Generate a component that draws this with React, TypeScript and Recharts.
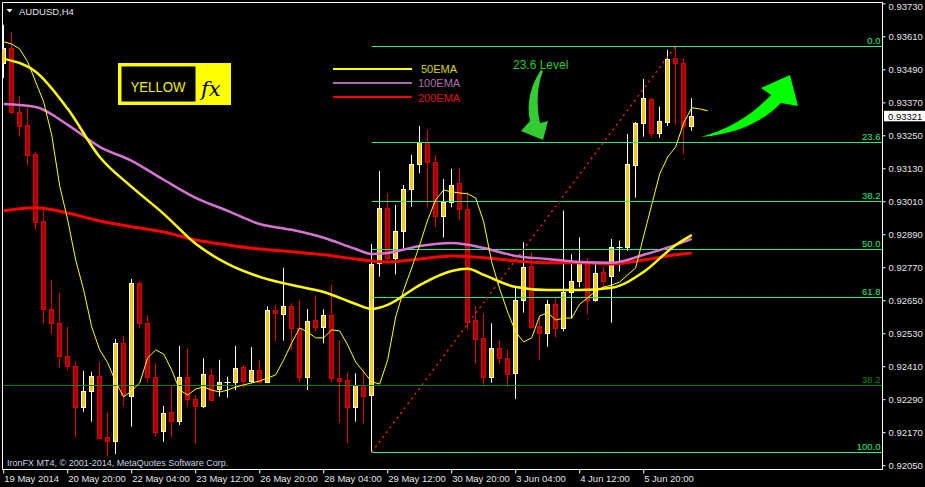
import React from "react";
import {
  ComposedChart,
  Bar,
  Line,
  XAxis,
  YAxis,
  ReferenceLine,
  ReferenceArea,
} from "recharts";

// AUDUSD H4 candles
const opens = [
  0.93514, 0.93571, 0.93336, 0.93289, 0.93184, 0.9294, 0.92619, 0.92569, 0.92449, 0.92413,
  0.92262, 0.92321, 0.92376, 0.92153, 0.92141, 0.92495, 0.92305, 0.92714, 0.92568, 0.92372,
  0.92177, 0.92244, 0.92214, 0.92372, 0.92293, 0.92268, 0.9238, 0.92328, 0.92354, 0.92353,
  0.92409, 0.92359, 0.92398, 0.92353, 0.92617, 0.92601, 0.92631, 0.9255, 0.92374, 0.9258,
  0.92556, 0.92598, 0.9237, 0.92362, 0.92262, 0.92344, 0.92307, 0.92786, 0.92987, 0.92807,
  0.92904, 0.93056, 0.93147, 0.93229, 0.93154, 0.9296, 0.93008, 0.93079, 0.92984, 0.9258,
  0.92513, 0.92372, 0.92477, 0.92441, 0.92386, 0.92653, 0.92777, 0.92558, 0.92534, 0.92637,
  0.9255, 0.92681, 0.92723, 0.92792, 0.92653, 0.92756, 0.9274, 0.92847, 0.92845, 0.93142,
  0.93298, 0.93384, 0.93259, 0.93302, 0.93532, 0.93514, 0.93287,
];
const highs = [
  0.93654, 0.93629, 0.93395, 0.93353, 0.93193, 0.92995, 0.92726, 0.92677, 0.92556, 0.92428,
  0.92395, 0.92392, 0.92428, 0.92243, 0.92511, 0.92522, 0.92729, 0.92722, 0.92598, 0.92423,
  0.92267, 0.9234, 0.92486, 0.92475, 0.92307, 0.92441, 0.92402, 0.92435, 0.92374, 0.92486,
  0.92416, 0.92481, 0.92435, 0.92629, 0.92635, 0.9277, 0.92641, 0.9265, 0.9262, 0.92671,
  0.92619, 0.92705, 0.92504, 0.92386, 0.92386, 0.92401, 0.92857, 0.93122, 0.93041, 0.92999,
  0.93071, 0.93181, 0.93286, 0.93272, 0.93181, 0.93093, 0.9313, 0.93133, 0.93047, 0.92631,
  0.92604, 0.92568, 0.92505, 0.92471, 0.92699, 0.92863, 0.92826, 0.92588, 0.92653, 0.92663,
  0.92978, 0.92819, 0.9288, 0.92805, 0.92792, 0.92774, 0.92875, 0.92869, 0.93257, 0.933,
  0.93457, 0.93389, 0.93356, 0.93563, 0.93577, 0.93532, 0.93387,
];
const lows = [
  0.9346, 0.9333, 0.93247, 0.93142, 0.92908, 0.92568, 0.92528, 0.92407, 0.92398, 0.92153,
  0.92246, 0.9221, 0.92146, 0.92083, 0.92092, 0.92265, 0.92192, 0.9255, 0.92352, 0.92155,
  0.92137, 0.92153, 0.92198, 0.92265, 0.92131, 0.92259, 0.92285, 0.92301, 0.92297, 0.92325,
  0.92332, 0.9235, 0.9235, 0.9235, 0.92501, 0.92505, 0.92471, 0.92353, 0.92325, 0.9254,
  0.92495, 0.92352, 0.92206, 0.92134, 0.9221, 0.92204, 0.92099, 0.92738, 0.92798, 0.92746,
  0.92841, 0.92992, 0.93114, 0.9299, 0.9292, 0.9288, 0.9299, 0.92945, 0.92544, 0.92423,
  0.92337, 0.92352, 0.92419, 0.92335, 0.92292, 0.92607, 0.92554, 0.92435, 0.92483, 0.92516,
  0.92538, 0.92586, 0.92699, 0.92601, 0.92647, 0.92699, 0.9257, 0.92756, 0.92832, 0.93025,
  0.93247, 0.93243, 0.93243, 0.93286, 0.9329, 0.93183, 0.93268,
];
const closes = [
  0.93569, 0.93336, 0.93287, 0.93182, 0.92936, 0.92619, 0.92568, 0.92448, 0.92412, 0.92262,
  0.92321, 0.92375, 0.9215, 0.92141, 0.92495, 0.92307, 0.92714, 0.92568, 0.92372, 0.92174,
  0.92241, 0.92214, 0.92374, 0.92292, 0.92267, 0.92382, 0.92288, 0.92353, 0.92354, 0.92404,
  0.92359, 0.92398, 0.92353, 0.92617, 0.92604, 0.92631, 0.9255, 0.92374, 0.92578, 0.92556,
  0.92598, 0.92368, 0.92359, 0.92262, 0.92344, 0.92305, 0.92783, 0.92987, 0.92807, 0.92904,
  0.93056, 0.93147, 0.93229, 0.93153, 0.9296, 0.93011, 0.93071, 0.92983, 0.92574, 0.9251,
  0.92372, 0.92477, 0.92441, 0.92382, 0.92653, 0.92774, 0.92556, 0.92534, 0.92637, 0.9255,
  0.92681, 0.92723, 0.92792, 0.92653, 0.92752, 0.92723, 0.92845, 0.92847, 0.93147, 0.93296,
  0.93387, 0.93259, 0.93304, 0.93529, 0.93514, 0.93287, 0.93321,
];

// thin yellow fast MA (shifted two bars forward)
const fastMa = [
  0.93592, 0.93584, 0.93566, 0.93519, 0.93446, 0.93373, 0.93253, 0.93068, 0.92944, 0.92798,
  0.92689, 0.92555, 0.92471, 0.92424, 0.92355, 0.923, 0.92322, 0.92351, 0.92442, 0.92471,
  0.92456, 0.92398, 0.92325, 0.92307, 0.92329, 0.92336, 0.92325, 0.92318, 0.92325, 0.92336,
  0.92344, 0.92351, 0.92358, 0.92369, 0.9238, 0.92435, 0.92496, 0.92551, 0.92536, 0.92515,
  0.92515, 0.92544, 0.9254, 0.92489, 0.92427, 0.92391, 0.92355, 0.92347, 0.92435, 0.92591,
  0.92689, 0.92769, 0.92853, 0.92944, 0.93017, 0.93053, 0.93046, 0.93042, 0.93039, 0.93024,
  0.92937, 0.92791, 0.92693, 0.92609, 0.92536, 0.925, 0.92515, 0.92595, 0.92606, 0.9258,
  0.92587, 0.92587, 0.92638, 0.9266, 0.92686, 0.927, 0.92707, 0.92718, 0.92744, 0.92769,
  0.92886, 0.92999, 0.93111, 0.93173, 0.9321, 0.93297, 0.93352, 0.93348, 0.93341,
];

// [bar index, value]
const ema50Pts: [number, number][] = [
  [0, 0.9353], [4, 0.93483], [8, 0.93348], [12, 0.93173], [16, 0.93064], [20, 0.92966],
  [24, 0.92857], [28, 0.92784], [32, 0.92737], [36, 0.92707], [40, 0.92682], [44, 0.92638],
  [46, 0.9262], [48, 0.92635], [52, 0.92707], [56, 0.92758], [58, 0.92766], [60, 0.92744],
  [64, 0.927], [68, 0.92689], [72, 0.92689], [76, 0.92697], [80, 0.92755], [84, 0.92853],
  [86, 0.92889],
];
const ema100Pts: [number, number][] = [
  [0, 0.93366], [4, 0.93355], [8, 0.9329], [12, 0.9321], [16, 0.93159], [20, 0.9309],
  [24, 0.93024], [28, 0.92977], [32, 0.92929], [36, 0.92908], [40, 0.92879], [44, 0.92838],
  [46, 0.9282], [48, 0.92824], [52, 0.92849], [56, 0.9286], [60, 0.92842], [64, 0.92813],
  [68, 0.92802], [72, 0.92791], [76, 0.92788], [80, 0.92817], [84, 0.92853], [86, 0.92875],
];
const ema200Pts: [number, number][] = [
  [0, 0.92977], [4, 0.92988], [8, 0.92969], [12, 0.9294], [16, 0.92919], [20, 0.929],
  [24, 0.92871], [28, 0.92853], [32, 0.92838], [36, 0.92828], [40, 0.92817], [44, 0.92802],
  [48, 0.92791], [52, 0.92802], [56, 0.92813], [60, 0.92806], [64, 0.92795], [68, 0.92788],
  [72, 0.92788], [76, 0.92784], [80, 0.92798], [84, 0.92817], [86, 0.92824],
];

const timeTicks = [0, 8, 16, 24, 32, 40, 48, 56, 64, 72, 80];
const timeLabels = [
  "19 May 2014", "20 May 20:00", "22 May 04:00", "23 May 12:00", "26 May 20:00",
  "28 May 04:00", "29 May 12:00", "30 May 20:00", "3 Jun 04:00", "4 Jun 12:00", "5 Jun 20:00",
];
const priceTicks = [
  0.9373, 0.9361, 0.9349, 0.9337, 0.9325, 0.9313, 0.9301, 0.9289, 0.9277, 0.9265, 0.9253,
  0.9241, 0.9229, 0.9217, 0.9205,
];

const fibLabels = ["0.0", "23.6", "38.2", "50.0", "61.8", "100.0"];
const fibPrices = [0.93577, 0.93228, 0.93012, 0.92838, 0.92664, 0.92099];
const fibStartBar = 46;
const oldFibLabel = "38.2";
const oldFibPrice = 0.92342;
const trendStart = { bar: 46, price: 0.92099 };
const trendEnd = { bar: 84, price: 0.93577 };
const lastPrice = 0.93321;

const X_DOMAIN: [number, number] = [-0.15, 109.85];
const Y_DOMAIN: [number, number] = [0.92036, 0.93735];

const FONT = "'Liberation Sans', Arial, sans-serif";
const FIB = "#1ff07f";
const OLD_FIB = "#0f800f";
const AXIS_TEXT = "#e4e4e4";

const m50 = new Map(ema50Pts);
const m100 = new Map(ema100Pts);
const m200 = new Map(ema200Pts);

const rows = fastMa.map((fast, i) => ({
  i,
  o: opens[i] ?? null,
  h: highs[i] ?? null,
  l: lows[i] ?? null,
  c: closes[i] ?? null,
  fast,
  e50: m50.get(i) ?? null,
  e100: m100.get(i) ?? null,
  e200: m200.get(i) ?? null,
}));

const Candle = (props: any) => {
  const { x, y, width, height, payload } = props;
  if (!payload || payload.h == null || !isFinite(y) || !isFinite(x)) return null;
  const { o, h, l, c } = payload;
  const span = h - l;
  const py = (v: number) => y + (span > 0 ? ((h - v) / span) * height : 0);
  const cx = Math.floor(x + (width || 0) / 2) + 0.5;
  const bull = c >= o;
  const wick = bull ? "#ffffff" : "#e00000";
  const top = Math.round(py(Math.max(o, c))) + 0.5;
  const bot = Math.round(py(Math.min(o, c))) + 0.5;
  return (
    <g>
      <line x1={cx} x2={cx} y1={py(h)} y2={py(l)} stroke={wick} strokeWidth={1} />
      {o === c ? (
        <line x1={cx - 3} x2={cx + 3} y1={top} y2={top} stroke="#ffffff" strokeWidth={1} />
      ) : (
        <rect
          x={cx - 2}
          y={top}
          width={4}
          height={Math.max(bot - top, 1)}
          fill={bull ? "#ffc800" : "#a80000"}
          stroke={bull ? "#ffffff" : "#e00000"}
          strokeWidth={1}
        />
      )}
    </g>
  );
};

// horizontal level line snapped to the pixel grid
const crispLine = (color: string) => (p: any) => {
  const yy = Math.round(p.y1) + 0.5;
  return <line x1={p.x1} x2={p.x2} y1={yy} y2={yy} stroke={color} strokeWidth={1} />;
};

const TimeTick = (props: any) => {
  const { x, y, payload } = props;
  const label = timeLabels[timeTicks.indexOf(payload.value)];
  return (
    <text x={x + 0.5} y={y} dy="0.71em" textAnchor="start" fill={AXIS_TEXT} fontSize={9.5} fontFamily={FONT}>
      {label}
    </text>
  );
};

const PriceAxisTick = (props: any) => {
  const { x, y, payload } = props;
  // keep the top label inside the picture
  const yy = y < 8 ? 7 : y;
  return (
    <text x={x} y={yy} dy="0.355em" textAnchor="start" fill={AXIS_TEXT} fontSize={9.5} fontFamily={FONT}>
      {Number(payload.value).toFixed(5)}
    </text>
  );
};

const PriceTag = (props: any) => {
  const vb = props.viewBox || {};
  const left = vb.x + vb.width + 1.5;
  return (
    <g>
      <rect x={left} y={vb.y - 5.5} width={42} height={10.5} fill="#ffffff" />
      <text x={left + 4} y={vb.y + 3.5} fill="#000000" fontSize={9.5} fontFamily={FONT}>
        {lastPrice.toFixed(5)}
      </text>
    </g>
  );
};

const Overlay = () => (
  <svg
    width={925}
    height={487}
    style={{ position: "absolute", left: 0, top: 0, pointerEvents: "none" }}
  >
    <defs>
      <filter id="soft" x="-10%" y="-10%" width="120%" height="120%">
        <feGaussianBlur stdDeviation="0.7" />
      </filter>
    </defs>
    <polygon points="6.5,9 12.5,9 9.5,12.5" fill="#ffffff" />
    <text x={19} y={14.5} fill={AXIS_TEXT} fontSize={9.5} fontFamily={FONT}>
      AUDUSD,H4
    </text>

    <rect x={118} y={63} width={113} height={42} fill="#ffff00" />
    <rect x={121.5} y={66.5} width={74} height={35} fill="#000000" />
    <text x={130.5} y={91.5} fill="#f2f200" fontSize={15} fontFamily={FONT} textLength={55} lengthAdjust="spacingAndGlyphs">
      YELLOW
    </text>
    <text x={201} y={96} fill="#000000" fontSize={21} fontStyle="italic" fontFamily="'DejaVu Serif', 'Liberation Serif', serif">
      fx
    </text>

    <line x1={333} x2={412} y1={69} y2={69} stroke="#ffff00" strokeWidth={2} />
    <line x1={333} x2={412} y1={83} y2={83} stroke="#a86ca8" strokeWidth={2} />
    <line x1={333} x2={412} y1={97} y2={97} stroke="#ff0000" strokeWidth={2} />
    <text x={421} y={73.3} fill="#d8d800" fontSize={11} fontFamily={FONT}>50EMA</text>
    <text x={418} y={87.3} fill="#b070a8" fontSize={11} fontFamily={FONT}>100EMA</text>
    <text x={418} y={101.5} fill="#e01010" fontSize={11} fontFamily={FONT}>200EMA</text>

    <text x={513} y={69} fill="#22cc22" fontSize={12} fontFamily={FONT}>23.6 Level</text>
    <path
      d="M 541 70 C 531 84, 526 104, 530 121 L 521 131 L 543 140 L 548 121 L 540 123 C 536 106, 537 86, 543 71 Z"
      fill="#33cc33"
    />
    <path
      d="M 701 137 Q 752 133 781 103 L 798 106 L 790 75 L 761 88 L 771 95 Q 742 126 701 137 Z"
      fill="#00ff00"
      filter="url(#soft)"
    />

    <text x={7} y={465.5} fill="#c8d2e2" fontSize={9} fontFamily={FONT}>
      IronFX MT4, © 2001-2014, MetaQuotes Software Corp.
    </text>
  </svg>
);

export default function App() {
  return (
    <div style={{ position: "relative", width: 925, height: 487, background: "#000" }}>
      <style>{"body{margin:0;background:#000}"}</style>
      <ComposedChart
        width={925}
        height={487}
        data={rows}
        margin={{ top: 2.5, left: 2.5, right: 0, bottom: 0 }}
      >
        <XAxis
          dataKey="i"
          type="number"
          domain={X_DOMAIN}
          allowDataOverflow
          ticks={timeTicks}
          interval={0}
          tick={<TimeTick />}
          tickSize={4}
          tickLine={{ stroke: "#ffffff" }}
          axisLine={{ stroke: "#ffffff" }}
          height={17.5}
        />
        <YAxis
          orientation="right"
          type="number"
          domain={Y_DOMAIN}
          allowDataOverflow
          ticks={priceTicks}
          interval={0}
          width={42.5}
          tickSize={3}
          tickMargin={3}
          tick={<PriceAxisTick />}
          tickLine={{ stroke: "#ffffff" }}
          axisLine={{ stroke: "#ffffff" }}
        />
        <ReferenceArea
          x1={X_DOMAIN[0]}
          x2={X_DOMAIN[1]}
          y1={Y_DOMAIN[0]}
          y2={Y_DOMAIN[1]}
          fill="none"
          stroke="#ffffff"
          ifOverflow="visible"
        />
        <ReferenceLine
          segment={[
            { x: X_DOMAIN[0], y: oldFibPrice },
            { x: X_DOMAIN[1], y: oldFibPrice },
          ]}
          stroke={OLD_FIB}
          shape={crispLine(OLD_FIB)}
          ifOverflow="visible"
          label={{ value: oldFibLabel, position: "insideBottomRight", offset: 2, fill: OLD_FIB, fontSize: 9.5, fontFamily: FONT }}
        />
        {fibPrices.map((p, k) => (
          <ReferenceLine
            key={fibLabels[k]}
            segment={[
              { x: fibStartBar, y: p },
              { x: X_DOMAIN[1], y: p },
            ]}
            stroke={FIB}
            shape={crispLine(FIB)}
            ifOverflow="visible"
            label={{ value: fibLabels[k], position: "insideBottomRight", offset: 2, fill: FIB, fontSize: 9.5, fontFamily: FONT }}
          />
        ))}
        <ReferenceLine
          segment={[
            { x: trendStart.bar, y: trendStart.price },
            { x: trendEnd.bar, y: trendEnd.price },
          ]}
          stroke="#ff2020"
          strokeWidth={1.4}
          strokeDasharray="2 4"
          ifOverflow="visible"
        />
        <Bar
          dataKey={(d: any) => (d.h == null ? null : [d.l, d.h])}
          barSize={5}
          shape={<Candle />}
          isAnimationActive={false}
        />
        <Line dataKey="e200" type="monotone" connectNulls stroke="#ff0000" strokeWidth={3} dot={false} isAnimationActive={false} />
        <Line dataKey="e100" type="monotone" connectNulls stroke="#d674d4" strokeWidth={2.5} dot={false} isAnimationActive={false} />
        <Line dataKey="e50" type="monotone" connectNulls stroke="#ffff00" strokeWidth={2.5} dot={false} isAnimationActive={false} />
        <Line dataKey="fast" type="linear" stroke="#ffff00" strokeWidth={1} dot={false} isAnimationActive={false} />
        <ReferenceLine y={lastPrice} stroke="none" ifOverflow="visible" label={<PriceTag />} />
      </ComposedChart>
      <Overlay />
    </div>
  );
}
